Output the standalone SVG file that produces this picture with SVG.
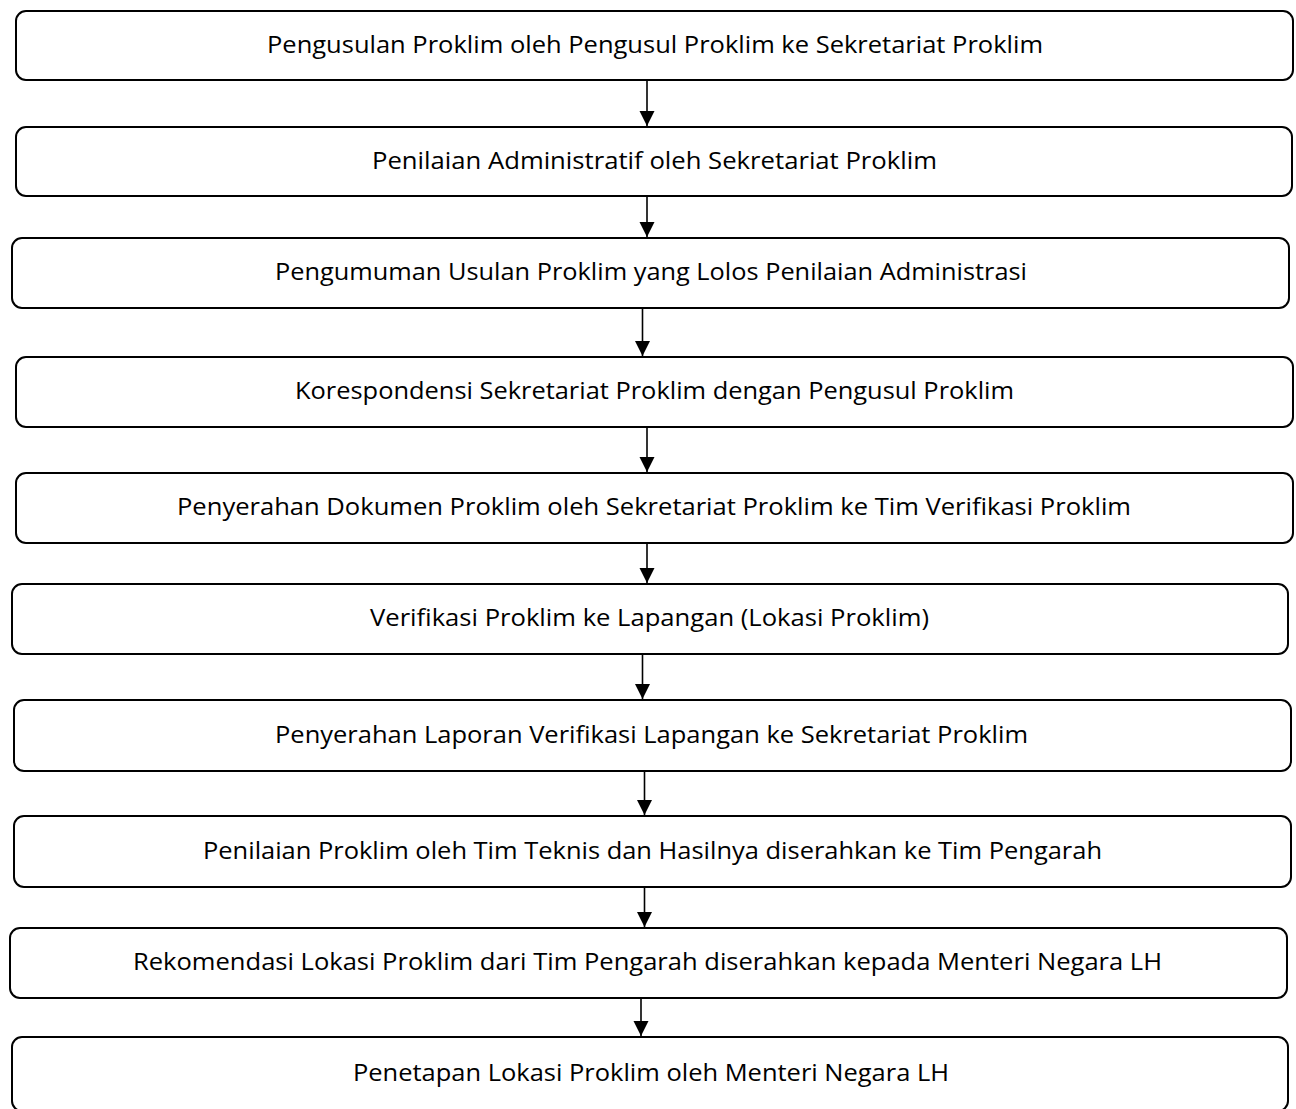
<svg xmlns="http://www.w3.org/2000/svg" width="1296" height="1109" viewBox="0 0 1296 1109">
<style>
.box{fill:#fff;stroke:#000;stroke-width:2}
.lbl{font-family:"Open Sans","Liberation Sans",sans-serif;font-size:24.5px;fill:#000;text-anchor:middle}
.conn{stroke:#000;stroke-width:1.6;fill:none}
</style>
<defs>
<marker id="ah" markerUnits="userSpaceOnUse" markerWidth="16" markerHeight="16" refX="15" refY="7.5" orient="auto">
<path d="M0,0 L15,7.5 L0,15 z" fill="#000"/>
</marker>
</defs>
<rect width="1296" height="1109" fill="#fff"/>
<g id="connectors">
<line class="conn" x1="647" y1="80" x2="647" y2="126" marker-end="url(#ah)"/>
<line class="conn" x1="647" y1="196" x2="647" y2="237" marker-end="url(#ah)"/>
<line class="conn" x1="642.5" y1="308" x2="642.5" y2="356" marker-end="url(#ah)"/>
<line class="conn" x1="647" y1="427" x2="647" y2="472" marker-end="url(#ah)"/>
<line class="conn" x1="647" y1="543" x2="647" y2="583" marker-end="url(#ah)"/>
<line class="conn" x1="642.5" y1="654" x2="642.5" y2="699" marker-end="url(#ah)"/>
<line class="conn" x1="644.5" y1="771" x2="644.5" y2="815" marker-end="url(#ah)"/>
<line class="conn" x1="644.5" y1="887" x2="644.5" y2="927" marker-end="url(#ah)"/>
<line class="conn" x1="641" y1="998" x2="641" y2="1036" marker-end="url(#ah)"/>
</g>
<g id="n1"><rect class="box" x="16" y="11" width="1277" height="69" rx="10"/><text class="lbl" x="655" y="52.5" textLength="776" lengthAdjust="spacingAndGlyphs">Pengusulan Proklim oleh Pengusul Proklim ke Sekretariat Proklim</text></g>
<g id="n2"><rect class="box" x="16" y="127" width="1276" height="69" rx="10"/><text class="lbl" x="654.5" y="168.5" textLength="565" lengthAdjust="spacingAndGlyphs">Penilaian Administratif oleh Sekretariat Proklim</text></g>
<g id="n3"><rect class="box" x="12" y="238" width="1277" height="70" rx="10"/><text class="lbl" x="651" y="280" textLength="752" lengthAdjust="spacingAndGlyphs">Pengumuman Usulan Proklim yang Lolos Penilaian Administrasi</text></g>
<g id="n4"><rect class="box" x="16" y="357" width="1277" height="70" rx="10"/><text class="lbl" x="654.5" y="399" textLength="719" lengthAdjust="spacingAndGlyphs">Korespondensi Sekretariat Proklim dengan Pengusul Proklim</text></g>
<g id="n5"><rect class="box" x="16" y="473" width="1277" height="70" rx="10"/><text class="lbl" x="654" y="515" textLength="954" lengthAdjust="spacingAndGlyphs">Penyerahan Dokumen Proklim oleh Sekretariat Proklim ke Tim Verifikasi Proklim</text></g>
<g id="n6"><rect class="box" x="12" y="584" width="1276" height="70" rx="10"/><text class="lbl" x="649.5" y="626" textLength="559" lengthAdjust="spacingAndGlyphs">Verifikasi Proklim ke Lapangan (Lokasi Proklim)</text></g>
<g id="n7"><rect class="box" x="14" y="700" width="1277" height="71" rx="10"/><text class="lbl" x="651.5" y="742.5" textLength="753" lengthAdjust="spacingAndGlyphs">Penyerahan Laporan Verifikasi Lapangan ke Sekretariat Proklim</text></g>
<g id="n8"><rect class="box" x="14" y="816" width="1277" height="71" rx="10"/><text class="lbl" x="652.5" y="858.5" textLength="899" lengthAdjust="spacingAndGlyphs">Penilaian Proklim oleh Tim Teknis dan Hasilnya diserahkan ke Tim Pengarah</text></g>
<g id="n9"><rect class="box" x="10" y="928" width="1277" height="70" rx="10"/><text class="lbl" x="647.5" y="970" textLength="1029" lengthAdjust="spacingAndGlyphs">Rekomendasi Lokasi Proklim dari Tim Pengarah diserahkan kepada Menteri Negara LH</text></g>
<g id="n10"><rect class="box" x="12" y="1037" width="1276" height="74" rx="10"/><text class="lbl" x="651" y="1081" textLength="596" lengthAdjust="spacingAndGlyphs">Penetapan Lokasi Proklim oleh Menteri Negara LH</text></g>
</svg>
